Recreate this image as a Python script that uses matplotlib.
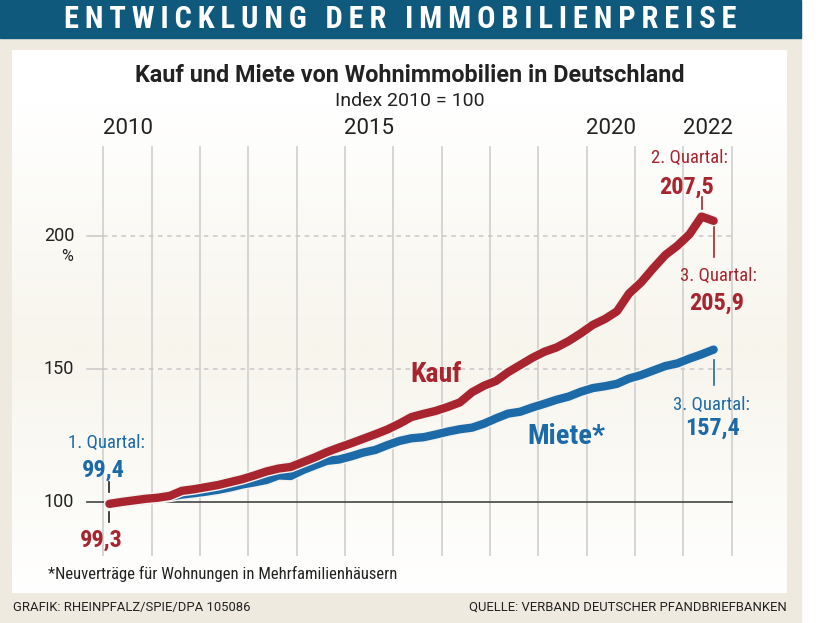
import matplotlib
matplotlib.use("Agg")
import matplotlib.pyplot as plt
import matplotlib.patheffects as pe
import numpy as np

# quarterly index values, 2010 Q1 .. 2022 Q3 (2010 = 100)
kauf = [99.3, 100.0, 100.6, 101.2,
        101.6, 102.3, 104.2, 104.8,
        105.6, 106.4, 107.5, 108.6,
        110.0, 111.5, 112.6, 113.2,
        115.0, 116.8, 118.8, 120.5,
        122.1, 123.8, 125.5, 127.3,
        129.5, 132.0, 133.2, 134.3,
        135.8, 137.5, 141.3, 143.8,
        145.6, 148.9, 151.6, 154.3,
        156.6, 158.2, 160.6, 163.5,
        166.7, 168.9, 171.8, 178.5,
        182.7, 188.0, 193.0, 196.5,
        200.8, 207.5, 205.9]
miete = [99.4, 99.9, 100.4, 100.9,
         101.4, 102.0, 102.8, 103.3,
         103.9, 104.6, 105.5, 106.6,
         107.4, 108.3, 110.0, 109.8,
         112.0, 113.8, 115.5, 116.0,
         117.2, 118.6, 119.6, 121.4,
         123.0, 124.0, 124.4, 125.4,
         126.5, 127.4, 128.0, 129.5,
         131.5, 133.3, 134.0, 135.6,
         137.0, 138.5, 139.7, 141.5,
         142.9, 143.6, 144.5, 146.5,
         147.8, 149.5, 151.2, 152.2,
         154.0, 155.6, 157.4]
year_labels = ["2010", "2015", "2020", "2022"]
yticks = [100, 150, 200]

t = 2010 + (np.arange(len(kauf)) + 0.5) / 4

RED = "#a8252f"
BLUE = "#1d6aa8"
NAVY = "#0f5a7c"
INK = "#222222"
NARROW = ["Roboto Condensed", "Roboto", "DejaVu Sans"]
REG = ["Roboto", "DejaVu Sans"]

plt.rcParams["font.family"] = REG

W, H = 819, 623
fig = plt.figure(figsize=(W / 100, H / 100), dpi=100)
fig.patch.set_facecolor("white")

# background in pixel coordinates
bg = fig.add_axes([0, 0, 1, 1])
bg.set_xlim(0, W)
bg.set_ylim(H, 0)
bg.axis("off")
bg.add_patch(plt.Rectangle((0, 0), 801, H, color="#eeeae0", zorder=0))
bg.add_patch(plt.Rectangle((0, 0), 801, 38, color=NAVY, zorder=1))
grad = np.linspace(0, 1, 200).reshape(-1, 1)
grad = np.minimum(1, np.abs(grad - 0.55) * 2.2)
cmap = matplotlib.colors.LinearSegmentedColormap.from_list("p", ["#f7f5ec", "#ffffff"])
bg.imshow(grad, extent=(12, 787, 593, 50), cmap=cmap, aspect="auto", zorder=1)
bg.text(400, 19, "\u2009".join("ENTWICKLUNG DER IMMOBILIENPREISE"),
        color="white", fontsize=22, fontweight="bold", ha="center", va="center",
        family=NARROW, zorder=3)
bg.text(410, 75, "Kauf und Miete von Wohnimmobilien in Deutschland", color=INK,
        fontsize=16.8, fontweight="bold", ha="center", va="center", family=REG, zorder=3)
bg.text(410, 101, "Index 2010 = 100", color=INK, fontsize=14, ha="center",
        va="center", family=REG, zorder=3)
bg.text(48, 574, "*Neuverträge für Wohnungen in Mehrfamilienhäusern", color=INK,
        fontsize=12, ha="left", va="center", family=NARROW, zorder=3)
bg.text(13, 607, "GRAFIK: RHEINPFALZ/SPIE/DPA 105086", color=INK, fontsize=9.4,
        ha="left", va="center", zorder=3)
bg.text(787, 607, "QUELLE: VERBAND DEUTSCHER PFANDBRIEFBANKEN", color=INK, fontsize=9.4,
        ha="right", va="center", zorder=3)

# main chart axes: 2010 -> 103.3 px, 2023 -> 731.7 px; 100 -> 502 px, 200 -> 236.5 px
ax = fig.add_axes([79.2 / W, (H - 560.4) / H, (755.9 - 79.2) / W, (560.4 - 140.9) / H])
ax.set_xlim(2009.5, 2023.5)
ax.set_ylim(78, 236)
ax.axis("off")
ax.patch.set_alpha(0)

for yr in range(2010, 2024):
    ax.plot([yr, yr], [80, 233.7], color="#cfcfcf", lw=1.2, zorder=1)
for v in yticks[1:]:
    ax.plot([2009.66, 2010], [v, v], color="#c8c8c8", lw=1.1, zorder=1)
    ax.plot([2010, 2023], [v, v], color="#c8c8c8", lw=1.1, ls=(0, (3, 3)), zorder=1)
ax.plot([2009.66, 2023], [100, 100], color="#444444", lw=1.2, zorder=2)

for v in yticks:
    ax.text(2009.4, v, str(v), ha="right", va="center", fontsize=13, color=INK,
            family=REG)
ax.text(2009.25, 192.3, "%", ha="center", va="center", fontsize=11.5, color=INK, family=REG)

for lab in year_labels:
    ax.text(int(lab) + 0.5, 240.5, lab, ha="center", va="center", fontsize=16,
            color=INK, family=REG, clip_on=False)

halo = [pe.Stroke(linewidth=8, foreground="#f3f3f0"), pe.Normal()]
ax.plot(t, miete, color=BLUE, lw=6, solid_capstyle="round", solid_joinstyle="round",
        path_effects=halo, zorder=4)
ax.plot(t, kauf, color=RED, lw=6, solid_capstyle="round", solid_joinstyle="round",
        path_effects=halo, zorder=5)

# annotations
ax.text(2010.07, 122.2, "1. Quartal:", color=BLUE,
        fontsize=13.5, ha="center", va="center", family=NARROW)
ax.text(2010.0, 111.8, "99,4", color=BLUE, fontsize=17.5, fontweight="bold",
        ha="center", va="center", family=NARROW)
ax.plot([t[0], t[0]], [103.8, 107.5], color=INK, lw=1.2, zorder=3)
ax.plot([t[0], t[0]], [92.5, 96.3], color=INK, lw=1.2, zorder=3)
ax.text(2009.95, 85.7, "99,3", color=RED, fontsize=17.5, fontweight="bold",
        ha="center", va="center", family=NARROW)

ax.text(2016.88, 148.2, "Kauf", color=RED, fontsize=20, fontweight="bold",
        ha="center", va="center", family=NARROW)
ax.text(2019.57, 124.5, "Miete*", color=BLUE, fontsize=20.5, fontweight="bold",
        ha="center", va="center", family=NARROW)

ax.text(2022.13, 229.6, "2. Quartal:", color=RED, fontsize=13.5, ha="center",
        va="center", family=NARROW)
ax.text(2022.07, 218.7, "207,5", color=RED, fontsize=17.5, fontweight="bold",
        ha="center", va="center", family=NARROW)
ax.plot([t[-2], t[-2]], [210.5, 214.8], color=RED, lw=1.2)
ax.plot([t[-1], t[-1]], [192.3, 203.8], color=RED, lw=1.2)
ax.text(2022.72, 185.0, "3. Quartal:", color=RED, fontsize=13.5, ha="center",
        va="center", family=NARROW)
ax.text(2022.68, 174.8, "205,9", color=RED, fontsize=17.5, fontweight="bold",
        ha="center", va="center", family=NARROW)
ax.plot([t[-1], t[-1]], [144.1, 153.5], color=BLUE, lw=1.2)
ax.text(2022.57, 136.6, "3. Quartal:", color=BLUE, fontsize=13.5, ha="center",
        va="center", family=NARROW)
ax.text(2022.6, 127.8, "157,4", color=BLUE, fontsize=17.5, fontweight="bold",
        ha="center", va="center", family=NARROW)

fig.savefig("out.png", dpi=100)
